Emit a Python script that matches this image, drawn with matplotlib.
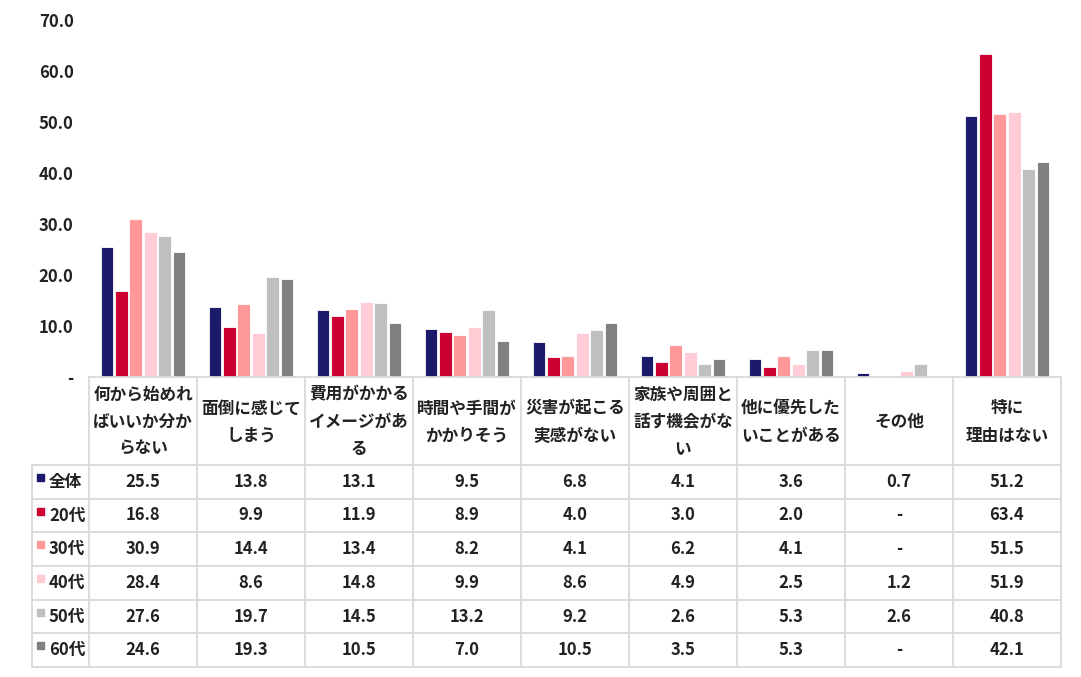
import numpy as np
import matplotlib
matplotlib.use("Agg")
import matplotlib.pyplot as plt
from matplotlib.patches import Rectangle

plt.rcParams['font.family'] = ['Noto Sans CJK JP', 'DejaVu Sans']

categories = [
    "何から始めれ\nばいいか分か\nらない",
    "面倒に感じて\nしまう",
    "費用がかかる\nイメージがあ\nる",
    "時間や手間が\nかかりそう",
    "災害が起こる\n実感がない",
    "家族や周囲と\n話す機会がな\nい",
    "他に優先した\nいことがある",
    "その他",
    "特に\n理由はない",
]
series_names = ["全体", "20代", "30代", "40代", "50代", "60代"]
nan = np.nan
v_all = [25.5, 13.8, 13.1, 9.5, 6.8, 4.1, 3.6, 0.7, 51.2]
v_20 = [16.8, 9.9, 11.9, 8.9, 4.0, 3.0, 2.0, nan, 63.4]
v_30 = [30.9, 14.4, 13.4, 8.2, 4.1, 6.2, 4.1, nan, 51.5]
v_40 = [28.4, 8.6, 14.8, 9.9, 8.6, 4.9, 2.5, 1.2, 51.9]
v_50 = [27.6, 19.7, 14.5, 13.2, 9.2, 2.6, 5.3, 2.6, 40.8]
v_60 = [24.6, 19.3, 10.5, 7.0, 10.5, 3.5, 5.3, nan, 42.1]
series_values = [v_all, v_20, v_30, v_40, v_50, v_60]
colors = ["#1B1A6C", "#CC0033", "#FF9999", "#FFCCD6", "#BFBFBF", "#808080"]
yticks = [0, 10, 20, 30, 40, 50, 60, 70]

W, H = 1081, 677
fig = plt.figure(figsize=(W / 100, H / 100), dpi=100)

# pixel layout
x0, x1 = 89, 1061
y_top, y_zero = 20, 377
y_table_bottom = 667
y_header_bottom = 465
x_label_left = 32
fs = 12

ax = fig.add_axes([x0 / W, 1 - y_zero / H, (x1 - x0) / W, (y_zero - y_top) / H])
n = len(categories)
ns = len(series_names)
slot = 0.1333
bw = 0.12
xs = np.arange(n)
for j, (vals, c) in enumerate(zip(series_values, colors)):
    h = np.nan_to_num(np.array(vals, dtype=float))
    ax.bar(xs + (j - (ns - 1) / 2) * slot, h, width=bw, color=c,
           edgecolor="white", linewidth=0.6)
ax.set_xlim(-0.5, n - 0.5)
ax.set_ylim(0, 70)
ax.set_yticks(yticks)
ax.set_yticklabels(["-" if t == 0 else f"{t:.1f}" for t in yticks],
                   fontsize=fs, fontweight="bold", color="#222222")
ax.tick_params(axis="y", length=0, pad=11)
ax.set_xticks([])
for s in ax.spines.values():
    s.set_visible(False)

# table axes
axt = fig.add_axes([x0 / W, 1 - y_table_bottom / H, (x1 - x0) / W,
                    (y_table_bottom - y_zero) / H])
axt.set_xlim(-0.5, n - 0.5)
axt.set_ylim(y_table_bottom, y_zero)
axt.axis("off")

px_per_unit = (x1 - x0) / n
left_ext = -0.5 - (x0 - x_label_left) / px_per_unit
lc = "#D9D9D9"
lw = 1.3
row_edges = np.linspace(y_header_bottom, y_table_bottom, ns + 1)

# horizontal lines
axt.plot([-0.5, n - 0.5], [y_zero, y_zero], color=lc, lw=lw, clip_on=False)
for yv in row_edges:
    axt.plot([left_ext, n - 0.5], [yv, yv], color=lc, lw=lw, clip_on=False)
# vertical lines
for k in range(n + 1):
    axt.plot([k - 0.5, k - 0.5], [y_zero, y_table_bottom], color=lc, lw=lw, clip_on=False)
axt.plot([left_ext, left_ext], [y_header_bottom, y_table_bottom], color=lc, lw=lw, clip_on=False)

# header text
for i, cat in enumerate(categories):
    axt.text(i, (y_zero + y_header_bottom) / 2 + 1, cat, ha="center", va="center",
             fontsize=fs, fontweight="bold", color="#222222", linespacing=1.65)

# rows
sq_w = 7 / px_per_unit
for j, name in enumerate(series_names):
    yc = (row_edges[j] + row_edges[j + 1]) / 2
    xsq = left_ext + 5 / px_per_unit
    axt.add_patch(Rectangle((xsq, yc - 8), sq_w, 7, color=colors[j], clip_on=False))
    axt.text(left_ext + 17 / px_per_unit, yc, name, ha="left", va="center",
             fontsize=fs, fontweight="bold", color="#222222", clip_on=False)
    for i, v in enumerate(series_values[j]):
        txt = "-" if np.isnan(v) else f"{v:.1f}"
        axt.text(i, yc, txt, ha="center", va="center", fontsize=fs,
                 fontweight="bold", color="#222222")

fig.savefig("out.png", dpi=100, facecolor="white")
